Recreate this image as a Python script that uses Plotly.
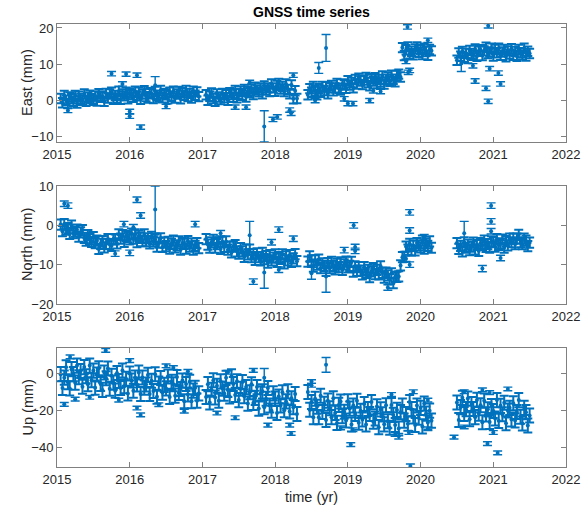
import plotly.graph_objects as go

# ---------------- data ----------------
# epochs (decimal year), four observation segments
T_SEG1 = [2015.050,2015.075,2015.100,2015.125,2015.150,2015.175,2015.200,2015.225,2015.250,2015.275,
          2015.300,2015.325,2015.350,2015.375,2015.400,2015.425,2015.450,2015.475,2015.500,2015.525,
          2015.550,2015.575,2015.600,2015.625,2015.650,2015.675,2015.700,2015.725,2015.750,2015.775,
          2015.800,2015.825,2015.850,2015.875,2015.900,2015.925,2015.950,2015.975,2016.000,2016.025,
          2016.050,2016.075,2016.100,2016.125,2016.150,2016.175,2016.200,2016.225,2016.250,2016.275,
          2016.300,2016.325,2016.350,2016.375,2016.400,2016.425,2016.450,2016.475,2016.500,2016.525,
          2016.550,2016.575,2016.600,2016.625,2016.650,2016.675,2016.700,2016.725,2016.750,2016.775,
          2016.800,2016.825,2016.850,2016.875,2016.900,2016.925,2016.950]
T_SEG2 = [2017.050,2017.075,2017.100,2017.125,2017.150,2017.175,2017.200,2017.225,2017.250,2017.275,
          2017.300,2017.325,2017.350,2017.375,2017.400,2017.425,2017.450,2017.475,2017.500,2017.525,
          2017.550,2017.575,2017.600,2017.625,2017.650,2017.675,2017.700,2017.725,2017.750,2017.775,
          2017.800,2017.825,2017.850,2017.875,2017.900,2017.925,2017.950,2017.975,2018.000,2018.025,
          2018.050,2018.075,2018.100,2018.125,2018.150,2018.175,2018.200,2018.225,2018.250,2018.275,
          2018.300]
T_SEG3 = [2018.450,2018.475,2018.500,2018.525,2018.550,2018.575,2018.600,2018.625,2018.650,2018.675,
          2018.700,2018.725,2018.750,2018.775,2018.800,2018.825,2018.850,2018.875,2018.900,2018.925,
          2018.950,2018.975,2019.000,2019.025,2019.050,2019.075,2019.100,2019.125,2019.150,2019.175,
          2019.200,2019.225,2019.250,2019.275,2019.300,2019.325,2019.350,2019.375,2019.400,2019.425,
          2019.450,2019.475,2019.500,2019.525,2019.550,2019.575,2019.600,2019.625,2019.650,2019.675,
          2019.700,2019.725,2019.750,2019.775,2019.800,2019.825,2019.850,2019.875,2019.900,2019.925,
          2019.950,2019.975,2020.000,2020.025,2020.050,2020.075,2020.100,2020.125,2020.150]
T_SEG4 = [2020.500,2020.525,2020.550,2020.575,2020.600,2020.625,2020.650,2020.675,2020.700,2020.725,
          2020.750,2020.775,2020.800,2020.825,2020.850,2020.875,2020.900,2020.925,2020.950,2020.975,
          2021.000,2021.025,2021.050,2021.075,2021.100,2021.125,2021.150,2021.175,2021.200,2021.225,
          2021.250,2021.275,2021.300,2021.325,2021.350,2021.375,2021.400,2021.425,2021.450,2021.475,
          2021.500]

EAST_SEG1 = [0.6,-0.6,1.4,0.1,-0.8,1.0,0.5,-0.2,1.4,-0.7,
             1.2,0.6,0.1,1.8,-0.2,0.9,1.5,0.5,0.1,1.3,
             -0.1,1.9,0.9,1.3,-0.2,2.0,0.7,1.8,2.3,0.4,
             1.4,0.7,2.6,0.4,1.8,1.3,2.3,0.5,2.1,1.6,
             0.9,2.6,1.3,2.3,0.4,1.8,2.7,1.1,0.7,2.2,
             1.9,0.6,2.5,1.5,1.0,2.8,0.8,2.0,1.6,0.5,
             2.3,1.2,2.6,0.7,1.8,2.5,0.5,2.2,1.5,2.8,
             1.1,2.0,0.7,2.6,1.5,2.4,1.1]
EAST_SEG2 = [1.6,0.1,1.2,2.1,0.6,-0.2,1.8,1.0,0.3,2.0,
             0.8,1.6,0.1,2.2,1.7,0.9,2.8,0.8,1.9,2.6,
             1.5,3.1,1.0,2.6,2.2,3.2,1.7,3.7,2.9,2.4,
             3.5,1.9,4.0,2.9,3.5,2.5,4.6,3.5,2.6,4.2,
             4.7,3.2,3.9,2.5,4.6,3.1,1.9,4.3,0.5,2.7,
             0.6]
EAST_SEG3 = [1.6,3.3,2.3,3.9,2.7,1.6,3.3,2.3,3.9,2.8,
             3.8,1.9,3.5,4.2,2.7,3.5,4.7,3.4,2.9,4.6,
             4.3,3.4,5.5,4.3,5.0,3.5,5.8,4.6,6.2,5.4,
             4.4,5.7,6.4,5.0,4.1,6.0,5.4,6.3,4.7,5.8,
             5.1,6.8,4.6,5.9,6.5,5.3,7.0,5.9,5.2,6.9,
             7.3,6.5,14.6,12.4,14.0,14.8,12.9,13.6,12.6,14.2,
             14.8,13.3,14.0,12.7,14.4,13.5,12.5,14.1,13.7]
EAST_SEG4 = [11.1,13.1,12.2,13.5,11.9,13.0,11.6,13.8,13.0,12.5,
             14.2,12.2,13.6,14.0,12.4,13.7,14.7,13.0,13.4,14.4,
             12.3,14.1,13.2,14.4,12.5,13.4,14.1,12.1,13.7,12.8,
             14.3,12.5,13.5,12.2,14.1,13.2,12.6,14.4,12.3,13.6,
             13.0]

NORTH_SEG1 = [0.2,-1.5,0.3,-1.1,-0.7,-2.2,-0.1,-2.0,-1.6,-1.1,
              -2.9,-1.8,-1.2,-3.2,-3.9,-2.5,-3.5,-4.2,-3.0,-4.5,
              -3.9,-6.0,-4.7,-4.0,-5.6,-4.7,-3.5,-4.8,-5.2,-3.5,
              -3.6,-4.6,-2.3,-3.4,-2.5,-4.2,-2.7,-3.0,-3.6,-2.1,
              -3.4,-2.3,-4.3,-2.7,-3.2,-4.0,-2.3,-4.0,-3.3,-4.6,
              -2.9,-4.1,-3.6,-5.4,-4.4,-3.3,-5.5,-4.4,-5.3,-4.2,
              -5.9,-4.7,-3.9,-5.6,-5.1,-4.1,-6.2,-4.5,-4.7,-5.9,
              -4.0,-5.4,-4.6,-6.2,-5.2,-4.5,-5.8]
NORTH_SEG2 = [-3.5,-4.9,-5.7,-4.3,-3.7,-5.7,-4.8,-4.3,-6.0,-4.2,
              -5.5,-4.1,-6.2,-5.4,-6.9,-5.4,-5.0,-6.6,-7.2,-5.8,
              -6.6,-8.0,-6.2,-7.4,-6.2,-8.1,-7.3,-8.8,-7.1,-8.1,
              -8.9,-7.0,-8.6,-7.8,-9.5,-7.6,-8.9,-8.2,-7.4,-9.3,
              -8.1,-8.5,-7.4,-9.7,-7.9,-8.9,-7.6,-9.3,-8.4,-7.3,
              -9.1]
NORTH_SEG3 = [-9.2,-7.9,-8.9,-10.5,-8.9,-10.0,-8.7,-10.9,-9.7,-10.3,
              -11.6,-9.6,-10.9,-9.3,-10.3,-11.2,-9.8,-10.6,-9.4,-11.3,
              -9.9,-9.2,-10.7,-10.3,-9.3,-11.8,-10.4,-11.6,-10.6,-11.5,
              -12.5,-10.6,-12.1,-11.3,-13.2,-11.7,-10.9,-12.4,-11.3,-12.5,
              -10.4,-12.1,-13.3,-12.0,-12.7,-13.7,-12.2,-14.7,-13.1,-13.1,
              -13.0,-10.2,-8.1,-8.0,-5.4,-6.2,-4.7,-6.4,-5.2,-6.4,
              -4.5,-5.1,-5.6,-3.9,-5.9,-4.6,-5.2,-4.1,-5.7]
NORTH_SEG4 = [-4.5,-6.0,-5.2,-6.6,-4.3,-5.7,-4.9,-6.3,-5.4,-4.4,
              -6.1,-5.0,-6.5,-4.5,-5.0,-3.9,-5.5,-4.8,-5.7,-4.1,
              -4.3,-5.4,-3.5,-5.0,-4.6,-3.6,-5.7,-4.0,-5.1,-3.4,
              -4.3,-3.4,-4.8,-3.4,-2.4,-4.3,-4.8,-3.4,-3.9,-5.3,
              -4.4]

UP_SEG1 = [-0.5,-8.0,-2.4,3.2,-4.9,-8.2,2.2,-0.5,-5.1,4.1,
           -2.2,1.2,-7.3,3.3,-1.6,-6.0,4.1,-3.8,1.4,-7.8,
           -0.7,2.7,-5.8,-9.0,0.4,-2.7,2.5,-8.4,-1.4,-5.1,
           -9.4,0.1,-4.2,-8.0,1.5,-7.0,-3.0,-10.9,-0.2,-3.9,
           -9.5,-2.4,-6.1,0.4,-11.2,-2.3,-7.8,-6.1,-0.9,-11.2,
           -4.1,-9.6,-0.6,-12.7,-5.6,-2.6,-10.5,-6.3,-8.2,-1.8,
           -12.8,-4.6,-6.0,-12.1,-2.1,-10.7,-8.5,-4.0,-15.1,-5.8,
           -11.5,-4.6,-15.1,-9.4,-7.9,-14.8,-10.9]
UP_SEG2 = [-12.8,-5.9,-15.8,-8.9,-3.8,-13.1,-6.8,-14.9,-4.4,-8.3,
           -11.0,-2.5,-9.0,-12.5,-1.6,-5.8,-11.7,-4.4,-14.5,-8.4,
           -4.7,-12.4,-7.5,-16.4,-10.3,-6.0,-16.1,-13.3,-7.5,-19.1,
           -10.9,-9.8,-18.4,-13.8,-8.0,-17.4,-20.2,-10.9,-13.7,-21.5,
           -12.6,-17.4,-10.3,-20.0,-15.2,-9.8,-20.7,-13.5,-18.3,-11.2,
           -22.0]
UP_SEG3 = [-10.1,-19.7,-15.5,-23.8,-13.8,-18.1,-23.7,-12.2,-20.9,-16.5,
           -25.2,-14.8,-18.9,-23.7,-13.5,-21.4,-26.8,-17.1,-15.3,-23.2,
           -20.8,-25.5,-15.1,-19.1,-27.7,-17.4,-22.0,-14.9,-26.7,-20.3,
           -25.0,-16.6,-27.7,-19.3,-22.0,-15.6,-26.2,-24.4,-17.9,-29.1,
           -19.5,-22.2,-27.6,-17.3,-25.9,-29.4,-17.2,-22.5,-27.9,-19.8,
           -29.8,-21.0,-17.5,-25.6,-22.0,-27.2,-15.5,-19.4,-23.3,-27.9,
           -17.4,-24.0,-18.7,-28.7,-16.4,-21.8,-26.6,-20.2,-25.6]
UP_SEG4 = [-15.8,-25.2,-18.3,-13.3,-22.0,-19.4,-13.7,-24.8,-16.6,-19.3,
           -23.7,-14.4,-21.8,-17.3,-26.5,-14.8,-22.2,-19.5,-26.3,-17.7,
           -20.4,-24.4,-14.5,-25.7,-17.6,-22.1,-15.9,-27.0,-20.1,-18.7,
           -25.0,-16.2,-25.5,-20.9,-14.5,-23.5,-27.1,-18.7,-21.0,-28.2,
           -22.8]

# formal errors (mm) of the regular epochs
EAST_SIGMA = 1.3
NORTH_SIGMA = 1.3
UP_SIGMA = 3.8

# outlying epochs: time, value, sigma
EAST_OUT_T = [2015.15,2015.75,2015.95,2016.00,2016.00,2016.10,2016.15,2016.35,2016.50,2015.90,
              2017.45,2017.60,2017.65,2017.85,2017.97,2018.03,2018.20,2018.22,2018.25,
              2018.55,2018.60,2018.70,2018.95,2019.00,2019.07,2019.30,2019.45,2019.35,2019.82,2019.85,2019.83,2019.80,2020.10,
              2020.56,2020.75,2020.90,2020.93,2020.95,2021.07,2021.10,2020.93,2020.72]
EAST_OUT_V = [-2.7,7.4,7.3,-3.0,-4.3,7.0,-7.3,4.2,-1.6,4.6,
              -1.8,-1.8,5.0,-7.1,-5.2,-4.5,-2.6,-3.5,7.0,
              0.0,9.0,14.5,0.5,-0.8,-0.8,0.0,2.5,2.7,20.3,8.3,7.8,10.8,16.6,
              10.2,5.4,3.4,-0.2,8.8,7.6,4.6,20.6,9.6]
EAST_OUT_S = [0.6,0.6,0.6,0.6,0.6,0.6,0.6,2.4,0.6,0.6,
              0.6,0.6,0.6,4.3,0.6,0.6,0.6,0.6,0.6,
              0.6,1.5,3.7,0.6,0.6,0.6,0.6,0.6,0.6,0.6,0.6,0.6,0.6,0.6,
              2.2,0.6,0.6,0.6,0.6,0.6,0.6,0.6,0.6]

NORTH_OUT_T = [2015.10,2015.15,2015.80,2015.92,2016.00,2016.05,2016.10,2016.15,2016.35,2016.90,
               2017.25,2017.65,2017.70,2017.85,2017.95,2018.05,2018.25,2018.05,
               2018.50,2018.70,2018.95,2019.08,2019.10,2019.10,2019.85,2019.85,2019.85,2019.80,2020.05,2019.55,
               2020.60,2020.85,2020.97,2020.97,2020.97,2021.10]
NORTH_OUT_V = [5.5,5.0,-7.2,0.3,-7.0,-0.5,6.5,2.5,4.0,0.3,
               -2.0,-2.5,-14.3,-12.0,-4.3,-1.1,-3.4,-11.3,
               -12.2,-13.0,-6.3,0.0,-5.5,-6.5,3.3,-1.3,-10.0,-8.5,-3.0,-15.8,
               -2.0,-11.0,5.0,1.0,-1.5,-8.3]
NORTH_OUT_S = [0.7,0.7,0.7,0.7,0.7,0.7,0.7,0.7,6.0,0.7,
               0.7,3.5,0.7,4.0,0.7,0.7,0.7,0.7,
               1.5,4.0,0.7,0.7,0.7,0.7,0.7,0.7,0.7,0.7,0.7,0.7,
               3.0,0.8,0.7,0.7,0.7,0.7]

UP_OUT_T = [2015.10,2015.18,2015.25,2015.45,2015.67,2016.00,2015.85,2016.10,2016.15,2016.40,2016.60,2016.80,2016.75,2016.50,
            2017.20,2017.45,2017.70,2017.85,2017.90,2018.20,2018.22,2017.35,
            2018.50,2018.50,2018.70,2018.90,2019.04,2019.07,2019.60,2019.65,2019.70,2019.84,2019.86,2019.90,2020.10,2020.10,
            2020.46,2020.60,2020.60,2020.85,2020.95,2020.92,2021.00,2021.06,2021.20]
UP_OUT_V = [-16.8,8.8,-14.0,-13.0,12.3,6.8,-14.5,-18.8,-22.5,-17.0,3.0,1.0,-20.5,4.0,
            -21.5,-24.0,1.5,-2.5,-28.0,-28.0,-32.5,0.5,
            -4.5,-6.5,4.5,-29.5,-38.5,-30.5,-11.5,-33.0,-34.0,-32.0,-50.0,-10.0,-14.5,-30.0,
            -34.5,-10.0,-29.0,-9.0,-10.5,-38.0,-32.0,-43.0,-8.5]
UP_OUT_S = [1.0,1.0,1.0,1.0,1.0,1.0,1.0,1.0,1.0,1.0,1.0,1.0,1.0,1.0,
            1.0,1.0,1.0,5.0,1.0,1.0,1.0,1.0,
            1.0,1.0,4.0,1.0,1.0,1.0,1.0,1.0,1.5,1.0,1.0,1.0,1.0,1.0,
            1.0,1.0,1.0,1.0,1.0,1.0,1.0,1.0,1.0]

YEAR_TICKS = [2015, 2016, 2017, 2018, 2019, 2020, 2021, 2022]
COMPONENTS = ["East (mm)", "North (mm)", "Up (mm)"]
Y_TICKS = [[-10, 0, 10, 20], [-20, -10, 0, 10], [-40, -20, 0]]
Y_RANGES = [[-11.4, 21.1], [-20, 10], [-50.6, 13.6]]

# ---------------- assemble ----------------
TIME = T_SEG1 + T_SEG2 + T_SEG3 + T_SEG4
series = [
    (EAST_SEG1 + EAST_SEG2 + EAST_SEG3 + EAST_SEG4, EAST_SIGMA, EAST_OUT_T, EAST_OUT_V, EAST_OUT_S),
    (NORTH_SEG1 + NORTH_SEG2 + NORTH_SEG3 + NORTH_SEG4, NORTH_SIGMA, NORTH_OUT_T, NORTH_OUT_V, NORTH_OUT_S),
    (UP_SEG1 + UP_SEG2 + UP_SEG3 + UP_SEG4, UP_SIGMA, UP_OUT_T, UP_OUT_V, UP_OUT_S),
]

W, H = 588, 510
BLUE = "#0072BD"
AX_COL = "#262626"
FONT = "Liberation Sans, Arial, sans-serif"
X_PX = (57, 566)                                 # page pixels
Y_PX = [(24, 142), (186, 304), (348, 467)]       # page pixels


def fx(px):
    return px / W


def fy(py):
    return 1 - py / H


fig = go.Figure()
for k, (vals, sig, ot, ov, osg) in enumerate(series):
    assert len(vals) == len(TIME)
    ax = "" if k == 0 else str(k + 1)
    # regular daily solutions
    fig.add_trace(go.Scatter(
        x=TIME, y=vals, mode="markers",
        marker=dict(color=BLUE, size=4),
        error_y=dict(type="data", array=[sig] * len(vals), visible=True, color=BLUE,
                     thickness=2, width=4.5),
        xaxis="x" + ax, yaxis="y" + ax, showlegend=False, hoverinfo="skip",
    ))
    # outlying solutions
    fig.add_trace(go.Scatter(
        x=ot, y=ov, mode="markers",
        marker=dict(color=BLUE, size=4),
        error_y=dict(type="data", array=osg, visible=True, color=BLUE,
                     thickness=1.4, width=4.5),
        xaxis="x" + ax, yaxis="y" + ax, showlegend=False, hoverinfo="skip",
    ))
    top, bot = Y_PX[k]
    common = dict(showline=True, linecolor="#808080", linewidth=1, mirror="ticks",
                  ticks="inside", ticklen=5, tickcolor="#808080", showgrid=False, zeroline=False,
                  automargin=False, tickfont=dict(family=FONT, size=13, color=AX_COL))
    fig.update_layout(**{
        "xaxis" + ax: dict(domain=[fx(X_PX[0]), fx(X_PX[1])], range=[2015, 2022],
                           tickvals=YEAR_TICKS, ticktext=[str(t) for t in YEAR_TICKS],
                           anchor="y" + ax, **common),
        "yaxis" + ax: dict(domain=[fy(bot), fy(top)], range=Y_RANGES[k],
                           tickvals=Y_TICKS[k], anchor="x" + ax, **common),
    })
    fig.add_annotation(text=COMPONENTS[k], xref="paper", yref="paper",
                       x=fx(27), y=fy((top + bot) / 2), textangle=-90,
                       showarrow=False, xanchor="center", yanchor="middle",
                       font=dict(family=FONT, size=14.5, color=AX_COL))

fig.add_annotation(text="time (yr)", xref="paper", yref="paper", x=fx((X_PX[0] + X_PX[1]) / 2),
                   y=fy(497), showarrow=False, xanchor="center", yanchor="middle",
                   font=dict(family=FONT, size=14.5, color=AX_COL))
fig.add_annotation(text="<b>GNSS time series</b>", xref="paper", yref="paper",
                   x=fx((X_PX[0] + X_PX[1]) / 2), y=fy(12), showarrow=False,
                   xanchor="center", yanchor="middle",
                   font=dict(family=FONT, size=14, color="#000000"))

fig.update_layout(template="none", width=W, height=H, margin=dict(l=0, r=0, t=0, b=0),
                  paper_bgcolor="white", plot_bgcolor="white")
# remove the default 8px page margin so the figure fills the browser window
fig.write_html("out.html", config={"displayModeBar": False},
               post_script="document.body.style.margin='0px';")
